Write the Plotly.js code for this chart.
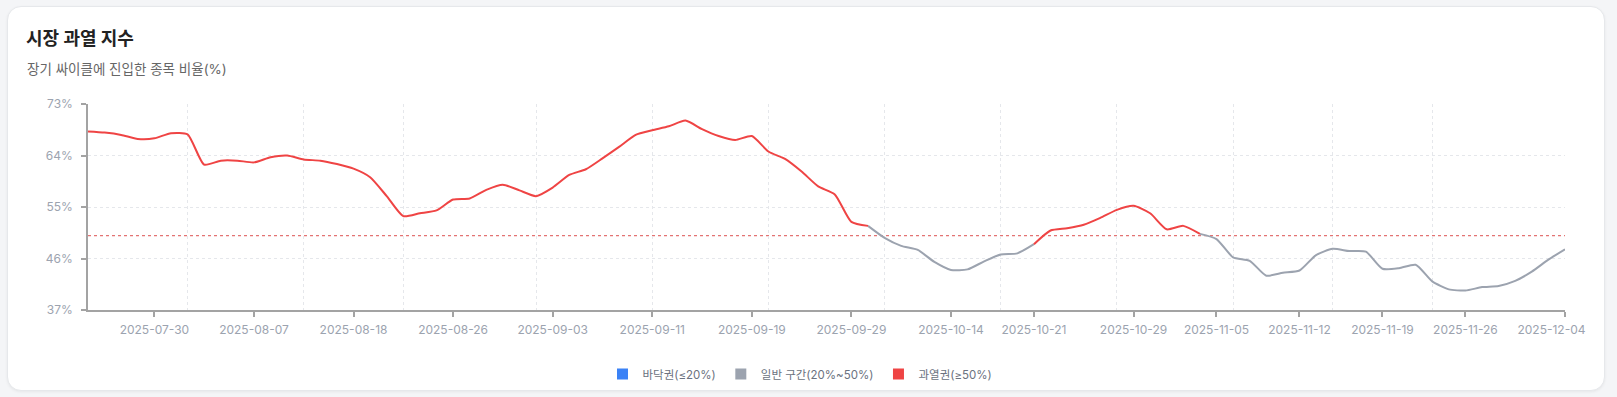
<!DOCTYPE html>
<html>
<head>
<meta charset="utf-8">
<script src="https://cdn.plot.ly/plotly-3.0.1.min.js"></script>
<style>
  html, body { margin:0; padding:0; width:1617px; height:397px; background:#f4f5f7; overflow:hidden; }
  #card { position:absolute; left:7px; top:6px; width:1596px; height:383px; background:#ffffff;
          border:1px solid #e6e8eb; border-radius:14px; box-shadow:0 1px 3px rgba(0,0,0,0.06); }
  #chart { position:absolute; left:0; top:0; width:1617px; height:397px; }
</style>
</head>
<body>
<div id="card"></div>
<div id="chart"></div>
<script>
// ---- data ----
const DATES = [
  "2025-07-24","2025-07-25","2025-07-28","2025-07-29","2025-07-30","2025-07-31",
  "2025-08-01","2025-08-04","2025-08-05","2025-08-06","2025-08-07","2025-08-08",
  "2025-08-11","2025-08-12","2025-08-13","2025-08-14","2025-08-18","2025-08-19",
  "2025-08-20","2025-08-21","2025-08-22","2025-08-25","2025-08-26","2025-08-27",
  "2025-08-28","2025-08-29","2025-09-01","2025-09-02","2025-09-03","2025-09-04",
  "2025-09-05","2025-09-08","2025-09-09","2025-09-10","2025-09-11","2025-09-12",
  "2025-09-15","2025-09-16","2025-09-17","2025-09-18","2025-09-19","2025-09-22",
  "2025-09-23","2025-09-24","2025-09-25","2025-09-26","2025-09-29","2025-09-30",
  "2025-10-01","2025-10-02","2025-10-10","2025-10-13","2025-10-14","2025-10-15",
  "2025-10-16","2025-10-17","2025-10-20","2025-10-21","2025-10-22","2025-10-23",
  "2025-10-24","2025-10-27","2025-10-28","2025-10-29","2025-10-30","2025-10-31",
  "2025-11-03","2025-11-04","2025-11-05","2025-11-06","2025-11-07","2025-11-10",
  "2025-11-11","2025-11-12","2025-11-13","2025-11-14","2025-11-17","2025-11-18",
  "2025-11-19","2025-11-20","2025-11-21","2025-11-24","2025-11-25","2025-11-26",
  "2025-11-27","2025-11-28","2025-12-01","2025-12-02","2025-12-03","2025-12-04"
];
const VALUES = [
  68.2, 68.0, 67.6, 66.9, 67.0, 67.9,
  67.7, 62.4, 63.1, 63.1, 62.8, 63.7,
  64.0, 63.3, 63.1, 62.5, 61.7, 60.2,
  56.9, 53.4, 53.9, 54.4, 56.3, 56.5,
  58.0, 58.9, 57.9, 56.9, 58.4, 60.6,
  61.6, 63.5, 65.5, 67.6, 68.4, 69.1,
  70.1, 68.6, 67.4, 66.7, 67.4, 64.7,
  63.4, 61.2, 58.6, 57.2, 52.4, 51.7,
  49.6, 48.2, 47.5, 45.4, 44.0, 44.1,
  45.5, 46.7, 46.9, 48.5, 50.9, 51.3,
  51.9, 53.1, 54.5, 55.2, 53.9, 51.1,
  51.7, 50.3, 49.4, 46.2, 45.6, 43.0,
  43.5, 43.9, 46.6, 47.7, 47.3, 47.2,
  44.2, 44.3, 44.9, 42.0, 40.6, 40.4,
  41.0, 41.2, 42.1, 43.7, 45.8, 47.6
];
const TICK_DATES = ["2025-07-30","2025-08-07","2025-08-18","2025-08-26","2025-09-03","2025-09-11",
  "2025-09-19","2025-09-29","2025-10-14","2025-10-21","2025-10-29","2025-11-05","2025-11-12",
  "2025-11-19","2025-11-26","2025-12-04"];
const GRID_DATES = ["2025-08-01","2025-08-12","2025-08-21","2025-09-02","2025-09-11","2025-09-22",
  "2025-10-01","2025-10-17","2025-10-28","2025-11-06","2025-11-14","2025-11-24","2025-12-04"];
const Y_TICKS = [37, 46, 55, 64, 73];
const LOW_MAX = 20;
const HOT_MIN = 50;
const ZONES = [
  {key:"low", name:"바닥권(≤20%)", color:"#3b82f6"},
  {key:"mid", name:"일반 구간(20%~50%)", color:"#9ca3af"},
  {key:"hot", name:"과열권(≥50%)", color:"#ef4444"}
];

// ---- build ----
const FONT = "Inter, 'Noto Sans CJK KR', 'Noto Sans', sans-serif";
function zoneOf(v){ return v >= HOT_MIN ? "hot" : (v <= LOW_MAX ? "low" : "mid"); }

const traces = [];
ZONES.forEach(z => {
  const ys = VALUES.map((v, i) => {
    const here = zoneOf(v) === z.key;
    const next = i + 1 < VALUES.length && zoneOf(VALUES[i+1]) === z.key;
    return (here || next) ? v : null;
  });
  traces.push({
    type:"scatter", mode:"lines", x:DATES, y:ys, name:z.name,
    line:{color:z.color, width:2, shape:"spline", smoothing:0.6},
    connectgaps:false, showlegend:false, hoverinfo:"x+y"
  });
});
// legend entries (square swatches)
ZONES.forEach(z => {
  traces.push({
    type:"scatter", mode:"markers", x:[null], y:[null], name:z.name,
    marker:{symbol:"square", size:11, color:z.color}, showlegend:true, hoverinfo:"skip"
  });
});
// invisible trace carrying the grid axis
traces.push({
  type:"scatter", mode:"lines", x:DATES, y:VALUES, xaxis:"x2", yaxis:"y",
  line:{width:0, color:"rgba(0,0,0,0)"}, showlegend:false, hoverinfo:"skip"
});

// last label is kept inside the plot edge (shifted left) like the original
const tickText = TICK_DATES.map((d, i) => i === TICK_DATES.length - 1 ? d + "\u00a0".repeat(8) : d);

const xRange = [0, DATES.length - 1];
const layout = {
  width:1617, height:397,
  paper_bgcolor:"rgba(0,0,0,0)", plot_bgcolor:"rgba(0,0,0,0)",
  margin:{l:88, r:52, t:104, b:87},
  font:{family:FONT, color:"#9ca3af", size:12},
  title:{
    text:"시장 과열 지수", x:26/1617, xanchor:"left", xref:"container",
    y:1-39/397, yanchor:"middle", yref:"container",
    font:{family:FONT, size:18, color:"#222222", weight:700}
  },
  annotations:[{
    text:"장기 싸이클에 진입한 종목 비율(%)", xref:"paper", yref:"paper",
    x:(25-88)/1477, y:(310-69)/206, xanchor:"left", yanchor:"middle",
    showarrow:false, font:{family:FONT, size:13.5, color:"#666666"}
  }],
  xaxis:{
    type:"category", categoryorder:"array", categoryarray:DATES, range:xRange,
    tickmode:"array", tickvals:TICK_DATES, ticktext:tickText,
    ticks:"outside", ticklen:5, tickwidth:1.5, tickcolor:"#a3a3a3",
    showline:true, linecolor:"#a3a3a3", linewidth:1.5,
    showgrid:false, zeroline:false,
    tickfont:{family:FONT, size:12, color:"#9ca3af"}, ticklabelstandoff:3,
    fixedrange:true
  },
  xaxis2:{
    type:"category", categoryorder:"array", categoryarray:DATES, range:xRange,
    overlaying:"x", anchor:"y", side:"bottom",
    tickmode:"array", tickvals:GRID_DATES, showticklabels:false, ticks:"",
    showgrid:true, gridcolor:"#e5e7eb", gridwidth:1, griddash:"3px,3px",
    showline:false, zeroline:false, fixedrange:true
  },
  yaxis:{
    range:[Y_TICKS[0], Y_TICKS[Y_TICKS.length-1]],
    tickmode:"array", tickvals:Y_TICKS, ticktext:Y_TICKS.map(v => v + "%"),
    ticks:"outside", ticklen:5, tickwidth:1.5, tickcolor:"#a3a3a3",
    showline:true, linecolor:"#a3a3a3", linewidth:1.5,
    showgrid:true, gridcolor:"#e5e7eb", gridwidth:1, griddash:"3px,3px",
    zeroline:false, tickfont:{family:FONT, size:12, color:"#9ca3af"},
    ticklabelstandoff:6, fixedrange:true
  },
  shapes:[{
    type:"line", xref:"paper", x0:0, x1:1, yref:"y", y0:HOT_MIN, y1:HOT_MIN,
    line:{color:"rgba(220,80,80,0.8)", width:1.2, dash:"3px,3px"}, layer:"below"
  }],
  legend:{
    orientation:"h", xref:"container", yref:"container",
    x:800/1617, xanchor:"center", y:1-374/397, yanchor:"middle",
    font:{family:FONT, size:11.5, color:"#6b7280"}, itemclick:false, itemdoubleclick:false,
    bgcolor:"rgba(0,0,0,0)"
  },
  showlegend:true,
  hovermode:"closest"
};
Plotly.newPlot("chart", traces, layout, {displayModeBar:false});
</script>
</body>
</html>
